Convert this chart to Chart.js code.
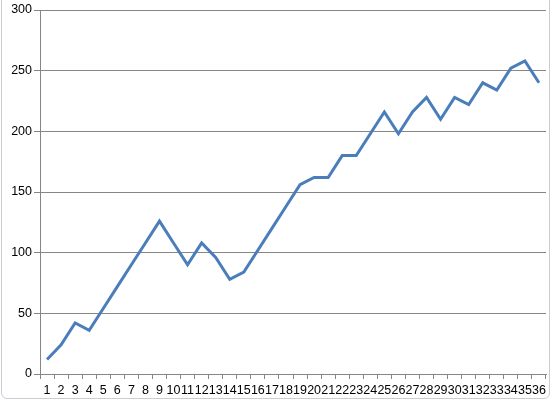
<!DOCTYPE html>
<html>
<head>
<meta charset="utf-8">
<script src="https://cdn.jsdelivr.net/npm/chart.js@4/dist/chart.umd.min.js"></script>
<style>
  html, body { margin: 0; padding: 0; background: #fff; }
  #wrap { position: relative; width: 554px; height: 402px; overflow: hidden; }
  #frame { position: absolute; left: 1px; top: -10px; width: 549px; height: 409px; border: 1px solid #c9cdd4; border-radius: 6px; box-sizing: border-box; pointer-events: none; }
  canvas { position: absolute; left: 0; top: 0; }
</style>
</head>
<body>
<div id="wrap">
  <canvas id="c" width="554" height="402"></canvas>
  <div id="frame"></div>
</div>
<script>
const categories = Array.from({length: 36}, (_, i) => String(i + 1));
const values = [12, 24, 42, 36, 54, 72, 90, 108, 126, 108, 90, 108, 96, 78, 84, 102, 120, 138,
                156, 162, 162, 180, 180, 198, 216, 198, 216, 228, 210, 228, 222, 240, 234, 252, 258, 240];
const yTicks = [0, 50, 100, 150, 200, 250, 300];

const gray = '#868686';
const font = { family: 'Liberation Sans', size: 12.5 };

new Chart(document.getElementById('c'), {
  type: 'line',
  data: {
    labels: categories,
    datasets: [{
      data: values,
      borderColor: '#4a7ebb',
      borderWidth: 3,
      pointRadius: 0,
      tension: 0,
      fill: false
    }]
  },
  options: {
    responsive: false,
    animation: false,
    devicePixelRatio: 1,
    layout: { padding: { top: 10, right: 8, left: 0, bottom: 0 } },
    plugins: { legend: { display: false }, tooltip: { enabled: false } },
    scales: {
      x: {
        offset: true,
        grid: { offset: true, drawOnChartArea: false, drawTicks: true, tickLength: 5, color: gray },
        border: { color: gray, width: 1 },
        ticks: { autoSkip: false, maxRotation: 0, minRotation: 0, padding: 4, color: '#000', font: font },
        afterFit: s => { s.height = 28; }
      },
      y: {
        min: 0, max: 300,
        afterBuildTicks: s => { s.ticks = yTicks.map(v => ({ value: v })); },
        grid: { color: gray, tickLength: 6 },
        border: { color: gray, width: 1 },
        ticks: { color: '#000', font: font, padding: 2 },
        afterFit: s => { s.width = 40; }
      }
    }
  }
});
</script>
</body>
</html>
